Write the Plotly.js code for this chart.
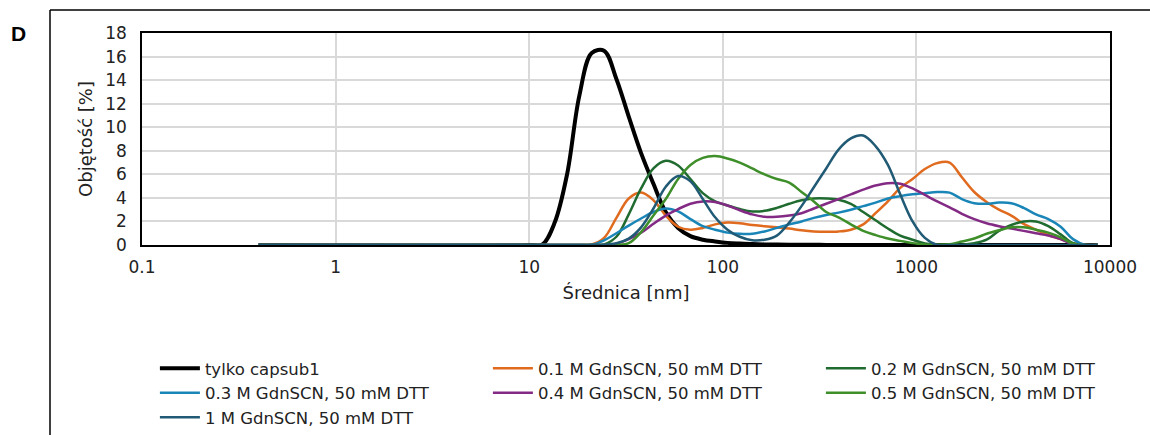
<!DOCTYPE html>
<html><head><meta charset="utf-8">
<script src="https://cdn.plot.ly/plotly-3.0.1.min.js"></script>
<style>html,body{margin:0;padding:0;background:#fff}#chart{width:1150px;height:435px}</style>
</head><body><div id="chart"></div>
<script>
// Size bins (nm)
const sizes = [
  0.4, 10.1, 11.7, 13.54, 15.69, 18.17, 21.04, 24.36,
  28.21, 32.67, 37.84, 43.82, 50.75, 58.77, 68.06, 78.82,
  91.28, 105.7, 122.4, 141.8, 164.2, 190.1, 220.2, 255.0,
  295.3, 342.0, 396.1, 458.7, 531.2, 615.1, 712.4, 825.0,
  955.4, 1106, 1281, 1484, 1718, 1990, 2305, 2669,
  3091, 3580, 4145, 4801, 5560, 6439, 7456, 8635
];
// Volume [%] per series
const capsub1 = [
  0, 0, 0.05, 1.9, 6.0, 12.7, 16.3, 16.5,
  14.1, 10.9, 7.8, 5.2, 2.8, 1.45, 0.75, 0.45,
  0.3, 0.18, 0.12, 0.08, 0.05, 0.04, 0.03, 0.02,
  0.02, 0.01, 0, 0, 0, 0, 0, 0,
  0, 0, 0, 0, 0, 0, 0, 0,
  0, 0, 0, 0, 0, 0, 0, 0
];
const gdn01 = [
  0, 0, 0, 0, 0, 0, 0.05, 0.6,
  2.3, 3.95, 4.45, 3.8, 2.5, 1.55, 1.3, 1.45,
  1.75, 1.9, 1.85, 1.7, 1.6, 1.5, 1.4, 1.25,
  1.15, 1.12, 1.15, 1.3, 1.75, 2.7, 3.7, 4.85,
  5.6, 6.45, 6.95, 7.0, 5.75, 4.5, 3.65, 3.0,
  2.5, 1.8, 1.3, 0.85, 0.5, 0.15, 0, 0
];
const gdn02 = [
  0, 0, 0, 0, 0, 0, 0, 0.05,
  0.7, 2.6, 4.8, 6.5, 7.15, 6.75, 5.6, 4.4,
  3.7, 3.35, 3.05, 2.85, 2.9, 3.15, 3.5, 3.8,
  3.95, 3.95, 3.85, 3.5, 2.8, 2.1, 1.4, 0.8,
  0.45, 0.12, 0.02, 0, 0.02, 0.15, 0.45, 1.2,
  1.7, 2.0, 2.0, 1.6, 0.9, 0.15, 0, 0
];
const gdn03 = [
  0, 0, 0, 0, 0, 0, 0.02, 0.4,
  1.0, 1.65, 2.25, 2.8, 3.1, 2.85, 2.2, 1.6,
  1.3, 1.05, 0.95, 0.95, 1.15, 1.45, 1.75, 2.0,
  2.3, 2.55, 2.75, 3.0, 3.3, 3.6, 3.95, 4.15,
  4.3, 4.4, 4.5, 4.45, 3.9, 3.55, 3.5, 3.6,
  3.55, 3.15, 2.6, 2.2, 1.55, 0.5, 0, 0
];
const gdn04 = [
  0, 0, 0, 0, 0, 0, 0, 0,
  0.1, 0.5, 1.05, 1.8, 2.5, 3.05, 3.5, 3.7,
  3.65, 3.35, 2.95, 2.6, 2.4, 2.4, 2.5, 2.7,
  3.1, 3.5, 3.9, 4.3, 4.7, 5.05, 5.25, 5.2,
  4.8, 4.25, 3.7, 3.2, 2.65, 2.2, 1.85, 1.6,
  1.4, 1.2, 1.0, 0.8, 0.5, 0.05, 0, 0
];
const gdn05 = [
  0, 0, 0, 0, 0, 0, 0, 0,
  0, 0.15, 1.1, 2.5, 3.9, 5.6, 6.8, 7.4,
  7.55, 7.35, 7.0, 6.5, 6.0, 5.6, 5.3, 4.5,
  3.7, 2.8, 2.35, 1.75, 1.2, 0.85, 0.55, 0.35,
  0.16, 0.05, 0.03, 0.07, 0.3, 0.55, 0.95, 1.25,
  1.5, 1.5, 1.3, 1.05, 0.65, 0.1, 0, 0
];
const gdn1 = [
  0, 0, 0, 0, 0, 0, 0, 0.02,
  0.15, 0.55, 1.5, 3.1, 4.95, 5.85, 5.4, 3.9,
  2.35, 1.3, 0.7, 0.4, 0.45, 0.8, 1.9, 3.3,
  4.9, 6.5, 8.1, 9.05, 9.3, 8.4, 6.8, 4.3,
  2.0, 0.6, 0, 0, 0, 0, 0, 0,
  0, 0, 0, 0, 0, 0, 0, 0
];
const seriesNames = [
  'tylko capsub1',
  '0.1 M GdnSCN, 50 mM DTT',
  '0.2 M GdnSCN, 50 mM DTT',
  '0.3 M GdnSCN, 50 mM DTT',
  '0.4 M GdnSCN, 50 mM DTT',
  '0.5 M GdnSCN, 50 mM DTT',
  '1 M GdnSCN, 50 mM DTT'
];
const seriesValues = [capsub1, gdn01, gdn02, gdn03, gdn04, gdn05, gdn1];
const seriesColors = ['#000000', '#E06A1E', '#206B30', '#1A86B8', '#832A85', '#3E8F2A', '#205A75'];
const seriesWidths = [4, 2.5, 2.5, 2.5, 2.5, 2.5, 2.5];
const xTickVals = [0.1, 1, 10, 100, 1000, 10000];
const xTickText = ['0.1', '1', '10', '100', '1000', '10000'];
const yTickVals = [0, 2, 4, 6, 8, 10, 12, 14, 16, 18];
const yTickText = ['0', '2', '4', '6', '8', '10', '12', '14', '16', '18'];

const FONT = 'DejaVu Sans, Liberation Sans, Arial, sans-serif';
const traces = seriesNames.map((name, i) => ({
  type: 'scatter', mode: 'lines', name: name,
  x: sizes, y: seriesValues[i],
  line: {color: seriesColors[i], width: seriesWidths[i], shape: 'spline', smoothing: 1},
  hoverinfo: 'x+y+name'
}));

const layout = {
  width: 1150, height: 435,
  margin: {l: 142, r: 40, t: 33, b: 190, pad: 0, autoexpand: false},
  paper_bgcolor: '#ffffff', plot_bgcolor: '#ffffff',
  font: {family: FONT, color: '#222222', size: 16},
  showlegend: true,
  xaxis: {
    type: 'log', range: [-1, 4], automargin: false,
    tickvals: xTickVals, ticktext: xTickText,
    ticks: '', ticklabelstandoff: 6,
    tickfont: {family: FONT, size: 17, color: '#222222'},
    showgrid: true, gridcolor: '#d9d9d9', gridwidth: 1.5,
    showline: true, mirror: true, linecolor: '#000000', linewidth: 1.5,
    zeroline: false,
    title: {text: 'Średnica [nm]', font: {family: FONT, size: 18, color: '#222222'}, standoff: 10}
  },
  yaxis: {
    range: [0, 18], automargin: false,
    tickvals: yTickVals, ticktext: yTickText,
    ticks: '', ticklabelstandoff: 10,
    tickfont: {family: FONT, size: 17, color: '#222222'},
    showgrid: true, gridcolor: '#d9d9d9', gridwidth: 1.5,
    showline: true, mirror: true, linecolor: '#000000', linewidth: 1.5,
    zeroline: false,
    title: {text: 'Objętość [%]', font: {family: FONT, size: 18, color: '#222222'}, standoff: 8}
  },
  legend: {
    orientation: 'h', x: -0.0001, xanchor: 'left', y: -0.4387, yanchor: 'top',
    entrywidth: 278, entrywidthmode: 'pixels', itemwidth: 40,
    font: {family: FONT, size: 16.5, color: '#222222'},
    bgcolor: 'rgba(0,0,0,0)', bordercolor: 'rgba(0,0,0,0)', borderwidth: 13, traceorder: 'normal'
  },
  shapes: [
    {type: 'line', xref: 'paper', yref: 'paper', x0: -0.09504, x1: 1.06, y0: 1.1085, y1: 1.1085,
     line: {color: '#000000', width: 1.5}},
    {type: 'line', xref: 'paper', yref: 'paper', x0: -0.09504, x1: -0.09504, y0: 1.1085, y1: -0.95,
     line: {color: '#000000', width: 1.5}}
  ],
  annotations: [
    {text: '<b>D</b>', xref: 'paper', yref: 'paper', x: -0.1276, y: 1.0,
     xanchor: 'center', yanchor: 'middle', showarrow: false,
     font: {family: 'Liberation Sans, Arial, sans-serif', size: 21, color: '#000000'}}
  ]
};

Plotly.newPlot('chart', traces, layout, {displayModeBar: false, responsive: false});
</script>
</body></html>
